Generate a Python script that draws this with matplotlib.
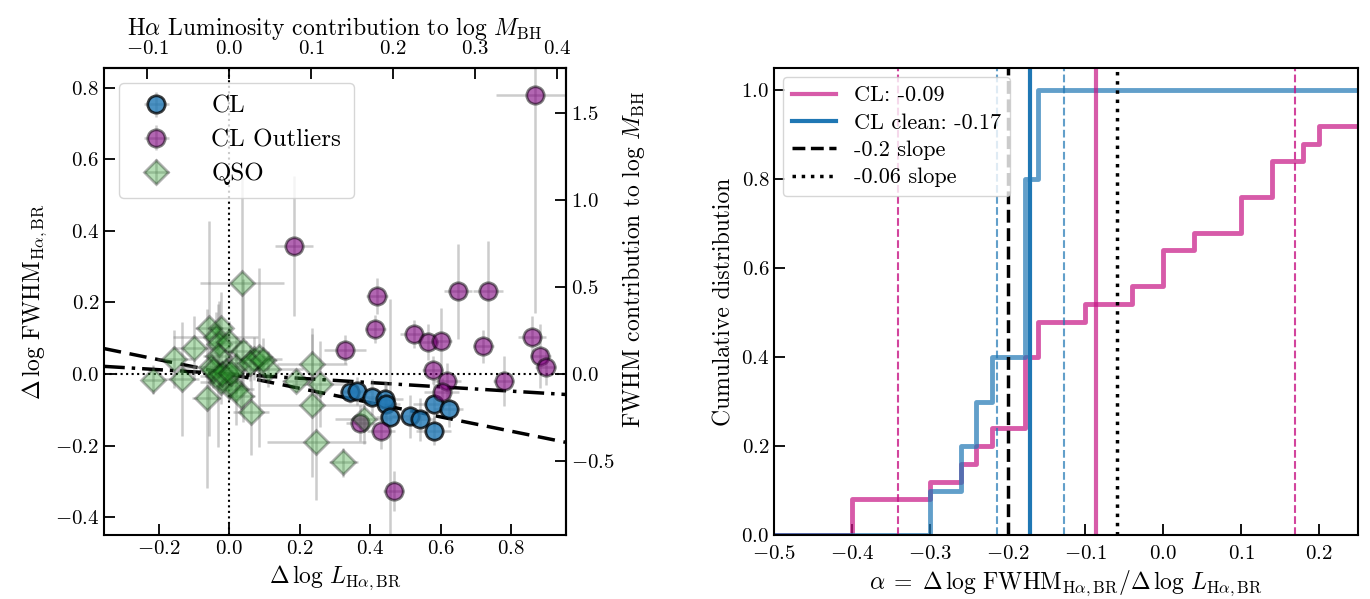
import numpy as np
import matplotlib.pyplot as plt
from matplotlib.colors import to_rgba

plt.rcParams['font.family'] = 'serif'
plt.rcParams['font.serif'] = ['cmr10']
plt.rcParams['mathtext.fontset'] = 'cm'
plt.rcParams['axes.formatter.use_mathtext'] = True
plt.rcParams['axes.linewidth'] = 1.5

# --- left panel data: offsets in log L and log FWHM, with errors
cl_x = [0.343, 0.362, 0.405, 0.443, 0.445, 0.455, 0.513, 0.540, 0.580, 0.622, 0.580]
cl_y = [-0.051, -0.048, -0.065, -0.070, -0.083, -0.121, -0.118, -0.126, -0.084, -0.098, -0.158]
cl_xerr = [0.03, 0.04, 0.05, 0.05, 0.04, 0.04, 0.05, 0.04, 0.06, 0.04, 0.05]
cl_yerr = [0.03, 0.04, 0.05, 0.05, 0.06, 0.33, 0.06, 0.06, 0.06, 0.05, 0.04]

out_x = [0.183, 0.329, 0.414, 0.419, 0.372, 0.430, 0.466, 0.523, 0.563, 0.601, 0.577,
         0.618, 0.603, 0.648, 0.721, 0.734, 0.778, 0.859, 0.868, 0.882, 0.898]
out_y = [0.358, 0.068, 0.126, 0.217, -0.137, -0.160, -0.326, 0.112, 0.090, 0.093, 0.011,
         -0.019, -0.051, 0.231, 0.077, 0.231, -0.020, 0.102, 0.779, 0.051, 0.019]
out_xerr = [0.054, 0.06, 0.03, 0.03, 0.04, 0.04, 0.03, 0.038, 0.03, 0.03, 0.03,
            0.04, 0.05, 0.04, 0.03, 0.042, 0.03, 0.04, 0.11, 0.03, 0.03]
out_yerr = [0.196, 0.04, 0.04, 0.05, 0.05, 0.05, 0.056, 0.04, 0.05, 0.09, 0.04,
            0.05, 0.04, 0.133, 0.045, 0.14, 0.07, 0.06, 0.61, 0.09, 0.05]

qso_x = [-0.215, -0.135, -0.156, -0.101, -0.064, -0.057, -0.024, -0.038, -0.028, 0.0,
         -0.033, -0.052, -0.033, -0.009, 0.019, -0.024, 0.0, 0.019, 0.033, 0.062,
         0.038, 0.071, 0.085, 0.109, 0.189, 0.036, 0.235, 0.258, 0.235, 0.247,
         0.324, 0.381, -0.045, -0.02, 0.005, 0.06, 0.095]
qso_y = [-0.016, -0.014, 0.042, 0.072, -0.068, 0.128, 0.128, 0.102, 0.084, 0.088,
         0.051, 0.019, -0.005, 0.009, 0.023, -0.023, -0.033, -0.042, -0.061, -0.105,
         0.065, 0.042, 0.047, 0.014, -0.019, 0.254, 0.028, -0.028, -0.087, -0.191,
         -0.247, -0.126, 0.012, 0.0, 0.003, 0.03, 0.04]
qso_xerr = [0.03, 0.05, 0.05, 0.06, 0.04, 0.04, 0.03, 0.12, 0.03, 0.05,
            0.04, 0.08, 0.05, 0.03, 0.04, 0.06, 0.03, 0.05, 0.04, 0.05,
            0.06, 0.08, 0.04, 0.10, 0.04, 0.12, 0.10, 0.08, 0.15, 0.14,
            0.04, 0.08, 0.03, 0.04, 0.03, 0.05, 0.04]
qso_yerr = [0.04, 0.16, 0.08, 0.09, 0.25, 0.30, 0.10, 0.07, 0.12, 0.06,
            0.07, 0.05, 0.20, 0.05, 0.08, 0.06, 0.04, 0.10, 0.05, 0.12,
            0.20, 0.06, 0.25, 0.05, 0.03, 0.30, 0.10, 0.12, 0.20, 0.16,
            0.04, 0.07, 0.05, 0.04, 0.06, 0.05, 0.06]

fit_slopes = [-0.2, -0.06]
lum_factor = 0.43    # top axis
fwhm_factor = 2.06   # right axis

# --- right panel data: per-object slopes alpha
cl_alpha = [-0.40, -0.40, -0.30, -0.26, -0.24, -0.22, -0.178, -0.178, -0.178, -0.178,
            -0.161, -0.161, -0.10, -0.04, 0.0, 0.0, 0.04, 0.10, 0.10, 0.14,
            0.14, 0.18, 0.20, 0.28, 0.33]
clean_alpha = [-0.30, -0.26, -0.24, -0.22, -0.178, -0.178, -0.178, -0.178, -0.161, -0.161]
cl_med, cl_lo, cl_hi = -0.087, -0.341, 0.169
clean_med, clean_lo, clean_hi = -0.171, -0.214, -0.127

fig = plt.figure(figsize=(13.7, 5.99), dpi=100)
ax1 = fig.add_axes([0.0759, 0.1068, 0.3372, 0.7797])
ax2 = fig.add_axes([0.565, 0.1068, 0.4262, 0.7797])

LBL = 17
TCK = 15

# left panel
xlim = (-0.355, 0.955)
ax1.axhline(0, color='k', ls=':', lw=1.5)
ax1.axvline(0, color='k', ls=':', lw=1.5)
xx = np.array(xlim)
ax1.plot(xx, fit_slopes[0] * xx, color='k', ls=(0, (5, 2.5)), lw=2.5)
ax1.plot(xx, fit_slopes[1] * xx, color='k', ls=(0, (6, 2, 1, 2)), lw=2.5)

ecol = to_rgba('gray', 0.4)
ax1.errorbar(cl_x, cl_y, xerr=cl_xerr, yerr=cl_yerr, fmt='o', ms=12.5,
             mfc=to_rgba('tab:blue', 0.8), mec=to_rgba('k', 0.75), mew=2,
             ecolor=ecol, elinewidth=1.8, capsize=0, label='CL')
ax1.errorbar(out_x, out_y, xerr=out_xerr, yerr=out_yerr, fmt='o', ms=12.5,
             mfc=to_rgba('purple', 0.6), mec=to_rgba('k', 0.5), mew=2,
             ecolor=ecol, elinewidth=1.8, capsize=0, label='CL Outliers')
ax1.errorbar(qso_x, qso_y, xerr=qso_xerr, yerr=qso_yerr, fmt='D', ms=12.5,
             mfc=to_rgba('tab:green', 0.35), mec=to_rgba('k', 0.3), mew=2,
             ecolor=ecol, elinewidth=1.8, capsize=0, label='QSO')

ax1.set_xlim(xlim)
ax1.set_ylim(-0.45, 0.855)
ax1.set_xticks([-0.2, 0.0, 0.2, 0.4, 0.6, 0.8])
ax1.set_yticks([-0.4, -0.2, 0.0, 0.2, 0.4, 0.6, 0.8])
ax1.tick_params(direction='in', length=8, width=1.3, labelsize=TCK)
ax1.set_xlabel(r'$\Delta\,\log\,L_{\mathrm{H}\alpha,\mathrm{BR}}$', fontsize=LBL)
ax1.set_ylabel(r'$\Delta\,\log\,\mathrm{FWHM}_{\mathrm{H}\alpha,\mathrm{BR}}$', fontsize=LBL)
ax1.legend(loc='upper left', fontsize=18, borderpad=0.5, handletextpad=1.2,
           labelspacing=0.45, borderaxespad=0.6)

top = ax1.secondary_xaxis('top', functions=(lambda x: lum_factor * x, lambda x: x / lum_factor))
top.tick_params(direction='in', length=8, width=1.3, labelsize=TCK, pad=7)
top.set_xlabel(r'H$\alpha$ Luminosity contribution to log $M_{\rm BH}$', fontsize=LBL)
right = ax1.secondary_yaxis('right', functions=(lambda y: fwhm_factor * y, lambda y: y / fwhm_factor))
right.tick_params(direction='in', length=8, width=1.3, labelsize=TCK)
right.set_ylabel(r'FWHM contribution to log $M_{\rm BH}$', fontsize=LBL, y=0.59)

# right panel
pink = 'mediumvioletred'
for vals, col in [(cl_alpha, pink), (clean_alpha, 'tab:blue')]:
    v = np.sort(vals)
    n = len(v)
    xs = np.concatenate([[-0.5], v, [0.4]])
    ys = np.concatenate([[0], np.arange(1, n + 1) / n, [1.0]])
    ax2.step(xs, ys, where='post', color=col, alpha=0.7, lw=3.5)

ax2.axvline(cl_med, color=pink, alpha=0.7, lw=3, label='CL: -0.09')
ax2.axvline(cl_lo, color=pink, alpha=0.8, lw=1.5, ls='--')
ax2.axvline(cl_hi, color=pink, alpha=0.8, lw=1.5, ls='--')
ax2.axvline(clean_med, color='tab:blue', lw=3, label='CL clean: -0.17')
ax2.axvline(clean_lo, color='tab:blue', alpha=0.7, lw=1.5, ls='--')
ax2.axvline(clean_hi, color='tab:blue', alpha=0.7, lw=1.5, ls='--')
ax2.axvline(fit_slopes[0], color='k', lw=2.5, ls='--', label='-0.2 slope')
ax2.axvline(fit_slopes[1], color='k', lw=2.5, ls=':', label='-0.06 slope')

ax2.set_xlim(-0.5, 0.25)
ax2.set_ylim(0, 1.05)
ax2.set_xticks(np.arange(-0.5, 0.21, 0.1))
ax2.tick_params(direction='in', length=8, width=1.3, labelsize=TCK)
ax2.tick_params(axis='x', pad=7)
ax2.set_xlabel(r'$\alpha\;=\;\Delta\,\log\,\mathrm{FWHM}_{\mathrm{H}\alpha,\mathrm{BR}}/\Delta\,\log\,L_{\mathrm{H}\alpha,\mathrm{BR}}$',
               fontsize=LBL)
ax2.set_ylabel('Cumulative distribution', fontsize=LBL)
ax2.legend(loc='upper left', fontsize=16, borderpad=0.4, labelspacing=0.35,
           borderaxespad=0.4)

fig.savefig('out.png', dpi=100)
